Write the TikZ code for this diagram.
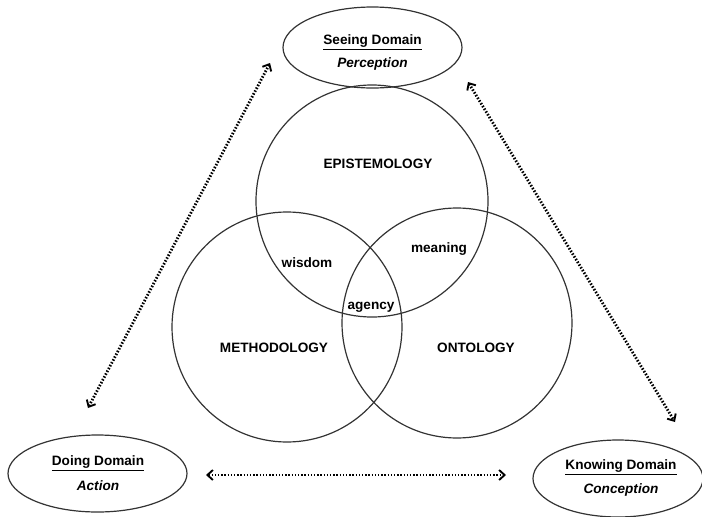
\documentclass[tikz,border=0pt]{standalone}
\usepackage{fontspec}
\setmainfont{Liberation Sans}
\usetikzlibrary{arrows.meta}
\begin{document}
\begin{tikzpicture}[x=1pt,y=-1pt,
  lbl/.style={font=\fontsize{13.6}{15}\selectfont\bfseries, inner sep=0pt},
  ital/.style={lbl, font=\fontsize{13.6}{15}\selectfont\bfseries\itshape},
  ring/.style={draw=black!80, line width=1.2pt},
  tip/.style={Straight Barb[length=5.5pt,width=10pt,line width=1.9pt]},
  link/.style={line width=2.8pt, dash pattern=on 1.5pt off 1.7pt,
    {Straight Barb[length=5.5pt,width=10pt,line width=1.9pt]}-{Straight Barb[length=5.5pt,width=10pt,line width=1.9pt]}}]
\useasboundingbox (0,0) rectangle (702,517);

% three domains
\draw[ring] (372.5,47.5) ellipse [x radius=89.5, y radius=40.5];
\draw[ring] (97.5,473.5) ellipse [x radius=89.5, y radius=38.5];
\draw[ring] (618,478.5) ellipse [x radius=85, y radius=38.5];
\node[lbl] (seeing) at (372.5,42) {\underline{Seeing Domain}};
\node[ital] (perception) at (372.5,64) {Perception};
\node[lbl] (doing) at (98,463) {\underline{Doing Domain}};
\node[ital] (action) at (98,486) {Action};
\node[lbl] (knowing) at (621,467) {\underline{Knowing Domain}};
\node[ital] (conception) at (621,490) {Conception};

% Venn circles
\draw[ring] (372,201) circle [radius=116];
\draw[ring] (287,327) circle [radius=115];
\draw[ring] (457,323) circle [radius=115];

\node[lbl] (epi) at (378,163.5) {EPISTEMOLOGY};
\node[lbl] (meth) at (274,347.5) {METHODOLOGY};
\node[lbl] (onto) at (476,347.5) {ONTOLOGY};
\node[lbl] (wisdom) at (307,263) {wisdom};
\node[lbl] (meaning) at (439,249) {meaning};
\node[lbl] (agency) at (371,307) {agency};

% connector ends
\coordinate (seeL) at (270,63);
\coordinate (doU) at (88,408);
\coordinate (seeR) at (468,82);
\coordinate (knU) at (675,422);
\coordinate (doR) at (206,475);
\coordinate (knL) at (506,475);

\draw[link] (doU) -- (seeL);
\draw[link] (seeR) -- (knU);
\draw[link] (doR) -- (knL);
\end{tikzpicture}
\end{document}
